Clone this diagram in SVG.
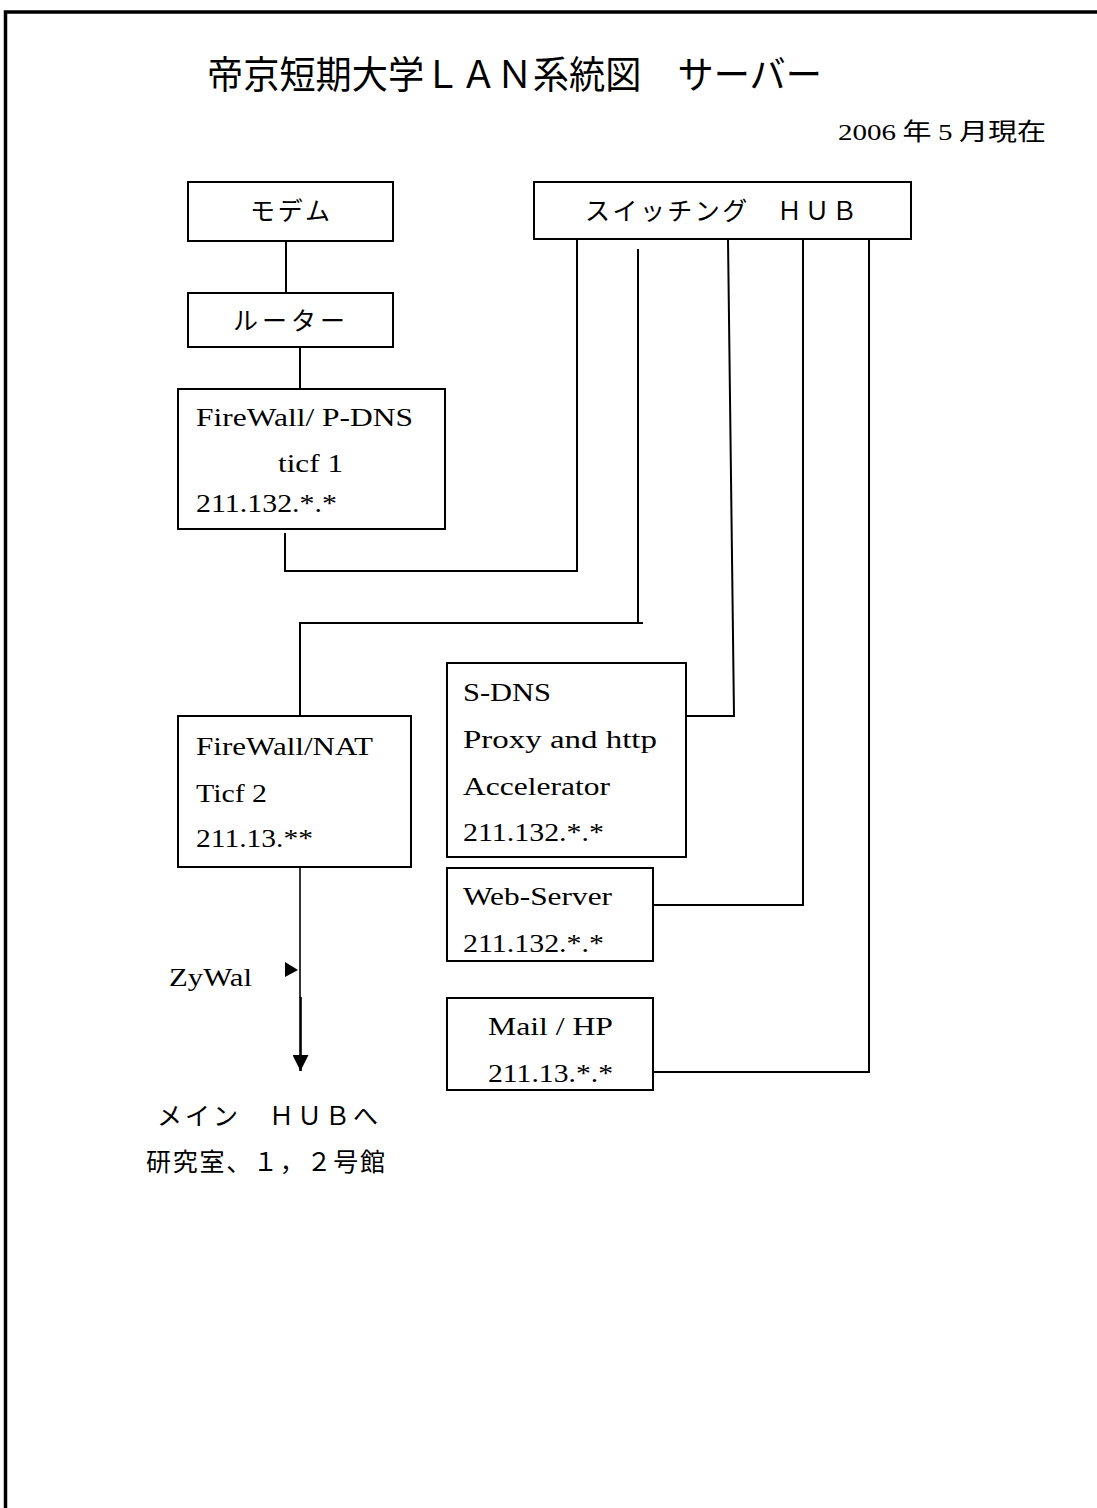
<svg xmlns="http://www.w3.org/2000/svg" width="1097" height="1508" viewBox="0 0 1097 1508">
<style>
.box{fill:#fff;stroke:#000;stroke-width:2}
.ln{fill:none;stroke:#000;stroke-width:2}
.lt{font-family:'Liberation Serif','Times New Roman',serif;font-size:26px;fill:#000}
.jp{font-family:'Noto Sans CJK JP','Noto Sans CJK SC',sans-serif;font-size:25px;fill:#000}
</style>
<defs>
<marker id="arr" markerUnits="userSpaceOnUse" markerWidth="16" markerHeight="16" refX="16" refY="8" orient="auto" viewBox="0 0 16 16">
<path d="M0,0 L16,8 L0,16 Z" fill="#000"/>
</marker>
</defs>
<rect width="1097" height="1508" fill="#fff"/>
<path d="M1100,12 H5.5 V1512" fill="none" stroke="#000" stroke-width="3.5"/>
<g id="title">
<text class="jp" x="207" y="88" style="font-size:38px" textLength="615" lengthAdjust="spacingAndGlyphs">帝京短期大学ＬＡＮ系統図　サーバー</text>
<text class="jp" x="838" y="140" style="font-size:24px" textLength="208" lengthAdjust="spacingAndGlyphs"><tspan style="font-family:'Liberation Serif',serif">2006</tspan> 年 <tspan style="font-family:'Liberation Serif',serif">5</tspan> 月現在</text>
</g>
<g id="connectors">
<path class="ln" d="M286,241 V293"/>
<path class="ln" d="M300,347 V389"/>
<path class="ln" d="M285,533 V571 H577 V239"/>
<path class="ln" d="M638,249 V623"/>
<path class="ln" d="M643,623 H300 V717"/>
<path class="ln" d="M728,239 L734,716 H686"/>
<path class="ln" d="M803,239 V905 H653"/>
<path class="ln" d="M869,239 V1072 H653"/>
<path class="ln" d="M300,857 V998" style="stroke-width:1.6"/>
<path class="ln" d="M300.5,997 V1071" style="stroke-width:2.6" marker-end="url(#arr)"/>
<polygon points="285,962 298,970 285,977" fill="#000"/>
</g>
<g id="modem">
<rect class="box" x="188" y="182" width="205" height="59"/>
<text class="jp" x="290" y="220" text-anchor="middle" textLength="80" lengthAdjust="spacing">モデム</text>
</g>
<g id="router">
<rect class="box" x="188" y="293" width="205" height="54"/>
<text class="jp" x="289" y="330" text-anchor="middle" textLength="112" lengthAdjust="spacing">ルーター</text>
</g>
<g id="switching-hub">
<rect class="box" x="534" y="182" width="377" height="57"/>
<text class="jp" x="585" y="220" textLength="272" lengthAdjust="spacing">スイッチング　ＨＵＢ</text>
</g>
<g id="firewall-pdns">
<rect class="box" x="178" y="389" width="267" height="140"/>
<text class="lt" x="196" y="426" textLength="217" lengthAdjust="spacingAndGlyphs">FireWall/ P-DNS</text>
<text class="lt" x="278" y="472" textLength="65" lengthAdjust="spacingAndGlyphs">ticf 1</text>
<text class="lt" x="196" y="512" textLength="141" lengthAdjust="spacingAndGlyphs">211.132.*.*</text>
</g>
<g id="firewall-nat">
<rect class="box" x="178" y="716" width="233" height="151"/>
<text class="lt" x="196" y="755" textLength="177" lengthAdjust="spacingAndGlyphs">FireWall/NAT</text>
<text class="lt" x="196" y="802" textLength="71" lengthAdjust="spacingAndGlyphs">Ticf 2</text>
<text class="lt" x="196" y="847" textLength="117" lengthAdjust="spacingAndGlyphs">211.13.**</text>
</g>
<g id="sdns-proxy">
<rect class="box" x="447" y="663" width="239" height="194"/>
<text class="lt" x="463" y="701" textLength="88" lengthAdjust="spacingAndGlyphs">S-DNS</text>
<text class="lt" x="463" y="748" textLength="194" lengthAdjust="spacingAndGlyphs">Proxy and http</text>
<text class="lt" x="463" y="795" textLength="147" lengthAdjust="spacingAndGlyphs">Accelerator</text>
<text class="lt" x="463" y="841" textLength="141" lengthAdjust="spacingAndGlyphs">211.132.*.*</text>
</g>
<g id="web-server">
<rect class="box" x="447" y="868" width="206" height="93"/>
<text class="lt" x="463" y="905" textLength="149" lengthAdjust="spacingAndGlyphs">Web-Server</text>
<text class="lt" x="463" y="952" textLength="141" lengthAdjust="spacingAndGlyphs">211.132.*.*</text>
</g>
<g id="mail-hp">
<rect class="box" x="447" y="998" width="206" height="92"/>
<text class="lt" x="488" y="1035" textLength="125" lengthAdjust="spacingAndGlyphs">Mail / HP</text>
<text class="lt" x="488" y="1082" textLength="125" lengthAdjust="spacingAndGlyphs">211.13.*.*</text>
</g>
<g id="zywal">
<text class="lt" x="169" y="986" textLength="83" lengthAdjust="spacingAndGlyphs">ZyWal</text>
</g>
<g id="main-hub">
<text class="jp" x="157" y="1125" textLength="221" lengthAdjust="spacing">メイン　ＨＵＢへ</text>
<text class="jp" x="146" y="1171" textLength="239" lengthAdjust="spacing">研究室、１，２号館</text>
</g>
</svg>
